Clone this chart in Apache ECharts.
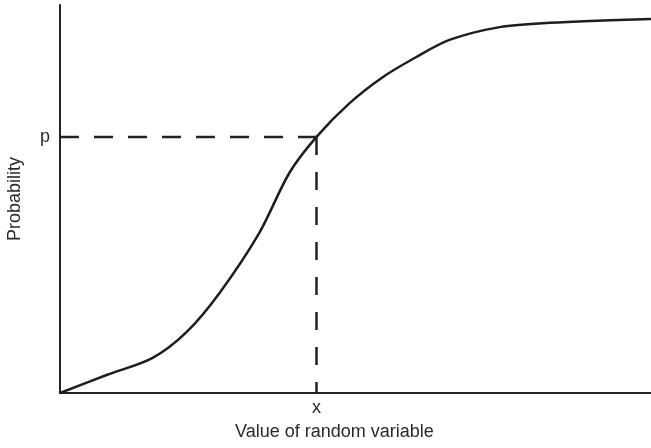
<!DOCTYPE html>
<html>
<head>
<meta charset="utf-8">
<script src="https://cdn.jsdelivr.net/npm/echarts@6/dist/echarts.min.js"></script>
<style>html,body{margin:0;padding:0;background:#fff;}#c{width:651px;height:448px;}</style>
</head>
<body>
<div id="c"></div>
<script>
var curveX = [0, 8.0, 15.6, 21.4, 27.0, 33.7, 38.8, 43.4, 49.0, 54.6, 60.3, 65.9, 74.4, 82.9, 100];
var curveY = [0, 0.047, 0.090, 0.157, 0.258, 0.412, 0.567, 0.660, 0.747, 0.814, 0.866, 0.910, 0.943, 0.954, 0.964];
var pValue = 0.660;
var xValue = 43.4;
var xLabel = 'x';
var pLabel = 'p';
var xTitle = 'Value of random variable';
var yTitle = 'Probability';

var curve = curveX.map(function (v, i) { return [v, curveY[i]]; });
var txt = '#2a2a2a';
var font = 'Liberation Sans, Arial, Helvetica, sans-serif';

var chart = echarts.init(document.getElementById('c'));
chart.setOption({
  animation: false,
  grid: { left: 60, right: 0, top: 5, bottom: 55, containLabel: false, outerBoundsMode: 'none' },
  xAxis: {
    type: 'value', min: 0, max: 100,
    splitLine: { show: false },
    axisLine: { show: true, lineStyle: { color: '#222', width: 2 } },
    axisTick: { show: false },
    axisLabel: {
      customValues: [xValue],
      formatter: function () { return xLabel; },
      color: txt, fontSize: 18, fontFamily: font, margin: 6
    }
  },
  yAxis: {
    type: 'value', min: 0, max: 1,
    name: yTitle, nameLocation: 'middle', nameGap: 36,
    nameTextStyle: { color: txt, fontSize: 18, fontFamily: font },
    splitLine: { show: false },
    axisLine: { show: true, lineStyle: { color: '#222', width: 2 } },
    axisTick: { show: false },
    axisLabel: {
      customValues: [pValue],
      formatter: function () { return pLabel; },
      color: txt, fontSize: 18, fontFamily: font, margin: 10
    }
  },
  graphic: [{
    type: 'text', left: 235, top: 423,
    style: { text: xTitle, fill: txt, font: '18px ' + font }
  }],
  series: [
    {
      type: 'line', data: curve, smooth: 0.3, showSymbol: false,
      lineStyle: { color: '#1e1e1e', width: 2.5 }, z: 3
    },
    {
      type: 'line', data: [[0, pValue], [xValue, pValue]], showSymbol: false,
      lineStyle: { color: '#222', width: 2.5, type: [19, 15] }
    },
    {
      type: 'line', data: [[xValue, pValue], [xValue, 0]], showSymbol: false,
      lineStyle: { color: '#222', width: 2.5, type: [18, 17] }
    }
  ]
});
</script>
</body>
</html>
